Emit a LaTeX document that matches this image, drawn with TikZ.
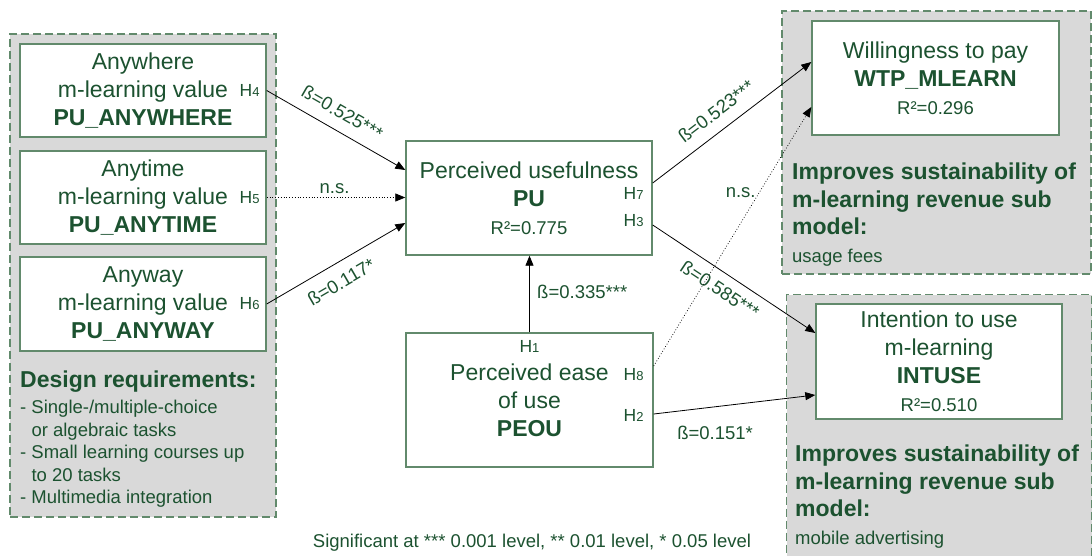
\documentclass[tikz,border=0pt]{standalone}
\usepackage{fontspec}
\setmainfont{Liberation Sans}
\usepackage{xcolor}
\usetikzlibrary{calc}
\usetikzlibrary{positioning,arrows.meta}
\definecolor{txtgreen}{RGB}{28,82,48}
\definecolor{boxgreen}{RGB}{98,138,108}
\definecolor{panelgray}{RGB}{217,217,217}
\newcommand{\bigf}{\fontsize{23}{28}\selectfont}
\newcommand{\smallf}{\fontsize{18.5}{22.5}\selectfont}
\newcommand{\hyp}[1]{{\fontsize{17.5}{19}\selectfont H\fontsize{13}{15}\selectfont #1}}
\tikzset{
  panel/.style={draw=boxgreen, fill=panelgray, line width=1.3pt, dash pattern=on 8pt off 4pt},
  construct/.style={draw=boxgreen, fill=white, line width=1.4pt, minimum width=246pt,
    align=center, text=txtgreen, font=\bigf, inner sep=0pt},
  hyplabel/.style={text=txtgreen, inner sep=0pt},
  coef/.style={text=txtgreen, font=\smallf},
  note/.style={text=txtgreen, align=left, inner sep=0pt},
  effect/.style={-{Triangle[length=10pt,width=8pt]}, line width=0.8pt},
  nseffect/.style={effect, dotted, line width=0.7pt}
}

\begin{document}
\begin{tikzpicture}[x=1pt,y=1pt]
\useasboundingbox (0,0) rectangle (1092,555);
% panels
\node[panel, minimum width=266pt, minimum height=483pt] (designpanel) at (143,279.5) {};
\node[panel, minimum width=309pt, minimum height=263pt] (wtppanel) at (936.5,412.5) {};
\node[panel, minimum width=305pt, minimum height=280pt, anchor=north west] (intpanel) at (786,261) {};
% constructs
\node[construct, minimum height=93pt] (anywhere) at (143,464.5) {Anywhere\\m-learning value\\\textbf{PU\_ANYWHERE}};
\node[construct, minimum height=93pt] (anytime) at (143,357.5) {Anytime\\m-learning value\\\textbf{PU\_ANYTIME}};
\node[construct, minimum height=94pt] (anyway) at (143,251) {Anyway\\m-learning value\\\textbf{PU\_ANYWAY}};
\node[construct, minimum height=114pt] (pu) at (529,357) {Perceived usefulness\\\textbf{PU}\\{\smallf R²=0.775}};
\node[construct, minimum height=134pt, minimum width=247pt] (peou) at (529.5,155) {Perceived ease\\of use\\\textbf{PEOU}};
\node[construct, minimum height=114pt, minimum width=247pt] (wtp) at (935.5,477) {Willingness to pay\\\textbf{WTP\_MLEARN}\\{\smallf R²=0.296}};
\node[construct, minimum height=115pt] (intuse) at (939,193.5) {Intention to use\\m-learning\\\textbf{INTUSE}\\{\smallf R²=0.510}};
% hypotheses
\node[hyplabel, anchor=east] (h4) at ([xshift=-7pt]anywhere.east) {\hyp{4}};
\node[hyplabel, anchor=east] (h5) at ([xshift=-7pt]anytime.east) {\hyp{5}};
\node[hyplabel, anchor=east] (h6) at ([xshift=-7pt]anyway.east) {\hyp{6}};
\node[hyplabel, anchor=east] (h7) at ([xshift=-9pt,yshift=5pt]pu.east) {\hyp{7}};
\node[hyplabel, anchor=east] (h3) at ([xshift=-9pt,yshift=-23pt]pu.east) {\hyp{3}};
\node[hyplabel, anchor=east] (h8) at ([xshift=-10pt,yshift=25pt]peou.east) {\hyp{8}};
\node[hyplabel, anchor=east] (h2) at ([xshift=-10pt,yshift=-15pt]peou.east) {\hyp{2}};
\node[hyplabel] (h1) at ([yshift=-14pt]peou.north) {\hyp{1}};
% texts
\node[note, font=\bigf, anchor=west] (designhead) at (20,173) {\textbf{Design requirements:}};
\node[note, font=\smallf, anchor=north west] (designlist) at (20,155)
  {- Single-/multiple-choice\\\phantom{- }or algebraic tasks\\- Small learning courses up\\\phantom{- }to 20 tasks\\- Multimedia integration};
\node[note, font=\fontsize{23}{27.5}\selectfont, anchor=north west] (wtpnote) at (792,392)
  {\textbf{Improves sustainability of}\\\textbf{m-learning revenue sub}\\\textbf{model:}\\{\smallf usage fees}};
\node[note, font=\fontsize{23}{27.5}\selectfont, anchor=north west] (intnote) at (795,110)
  {\textbf{Improves sustainability of}\\\textbf{m-learning revenue sub}\\\textbf{model:}\\{\smallf mobile advertising}};
\node[coef] (signote) at (532,12) {Significant at *** 0.001 level, ** 0.01 level, * 0.05 level};
% paths
\draw[effect] (anywhere.east) -- ([yshift=28pt]pu.west)
  node[coef, sloped, above=8pt, pos=0.48] (b4) {ß=0.525***};
\draw[nseffect] (anytime.east) -- (anytime.east -| pu.west)
  node[coef, above, pos=0.49] (b5) {n.s.};
\draw[effect] (anyway.east) -- ([yshift=-25pt]pu.west)
  node[coef, sloped, below=8pt, pos=0.47] (b6) {ß=0.117*};
\draw[effect] (peou.north) -- (peou.north |- pu.south)
  node[coef, right=4pt, pos=0.53] (b1) {ß=0.335***};
\draw[effect] ([yshift=15pt]pu.east) -- ([yshift=16pt]wtp.west)
  node[coef, sloped, above=8pt, pos=0.47] (b7) {ß=0.523***};
\draw[effect] ([yshift=-27pt]pu.east) -- ([yshift=28.5pt]intuse.west)
  node[coef, sloped, below=6pt, pos=0.47] (b3) {ß=0.585***};
\draw[nseffect] ([yshift=34pt]peou.east) -- ([yshift=-29pt]wtp.west)
  node[coef, left, pos=0.67] (b8) {n.s.};
\draw[effect] ([yshift=-14pt]peou.east) -- ([yshift=-33.5pt]intuse.west)
  node[coef, below=16pt, pos=0.38] (b2) {ß=0.151*};
\end{tikzpicture}
\end{document}
